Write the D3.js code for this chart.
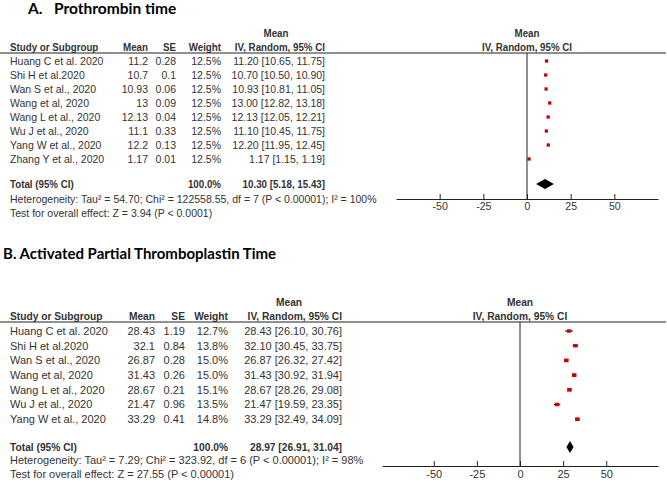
<!DOCTYPE html>
<html><head><meta charset="utf-8">
<script src="https://cdn.jsdelivr.net/npm/d3@7"></script>
<style>
body{margin:0;background:#fff}
svg{display:block}
</style>
</head><body>
<svg id="chart" width="667" height="489"></svg>
<script>
// ---------- Data: Panel A (Prothrombin time) ----------
const studiesA = ["Huang C et al. 2020","Shi H et al.2020","Wan S et al., 2020","Wang et al, 2020","Wang L et al., 2020","Wu J et al., 2020","Yang W et al., 2020","Zhang Y et al., 2020"];
const meanA   = [11.2, 10.7, 10.93, 13, 12.13, 11.1, 12.2, 1.17];
const seA     = [0.28, 0.1, 0.06, 0.09, 0.04, 0.33, 0.13, 0.01];
const weightA = [12.5, 12.5, 12.5, 12.5, 12.5, 12.5, 12.5, 12.5];
const lowA    = [10.65, 10.50, 10.81, 12.82, 12.05, 10.45, 11.95, 1.15];
const highA   = [11.75, 10.90, 11.05, 13.18, 12.21, 11.75, 12.45, 1.19];
const totalA  = [10.30, 5.18, 15.43];   // mean, lower, upper
const hetA    = "Heterogeneity: Tau\u00b2 = 54.70; Chi\u00b2 = 122558.55, df = 7 (P < 0.00001); I\u00b2 = 100%";
const testA   = "Test for overall effect: Z = 3.94 (P < 0.0001)";

// ---------- Data: Panel B (APTT) ----------
const studiesB = ["Huang C et al. 2020","Shi H et al.2020","Wan S et al., 2020","Wang et al, 2020","Wang L et al., 2020","Wu J et al., 2020","Yang W et al., 2020"];
const meanB   = [28.43, 32.1, 26.87, 31.43, 28.67, 21.47, 33.29];
const seB     = [1.19, 0.84, 0.28, 0.26, 0.21, 0.96, 0.41];
const weightB = [12.7, 13.8, 15.0, 15.0, 15.1, 13.5, 14.8];
const lowB    = [26.10, 30.45, 26.32, 30.92, 28.26, 19.59, 32.49];
const highB   = [30.76, 33.75, 27.42, 31.94, 29.08, 23.35, 34.09];
const totalB  = [28.97, 26.91, 31.04];
const hetB    = "Heterogeneity: Tau\u00b2 = 7.29; Chi\u00b2 = 323.92, df = 6 (P < 0.00001); I\u00b2 = 98%";
const testB   = "Test for overall effect: Z = 27.55 (P < 0.00001)";

const axisTicks = [-50, -25, 0, 25, 50];

const svg = d3.select("#chart");
const FONT = "'Liberation Sans', Arial, sans-serif";
const TXT = "#333";

function drawPanel(p) {
  const g = svg.append("g");
  const fs = p.fs;
  const bl = fs * 0.36; // shift from visual centre to baseline
  const t = (x, y, s, anchor, bold) => g.append("text")
      .attr("transform", `translate(${x},${y + bl}) scale(${bold ? 0.93 : 1},1)`)
      .attr("text-anchor", anchor || "start")
      .attr("font-family", FONT).attr("font-size", fs)
      .attr("font-weight", bold ? "bold" : "normal")
      .attr("fill", TXT).text(s);

  // Title
  p.title.forEach(tt => g.append("text")
      .attr("x", tt.x).attr("y", p.titleY + 5.5)
      .attr("font-family", "Lato, 'Open Sans', sans-serif")
      .attr("font-weight", "bold").attr("font-size", p.titleFs)
      .attr("fill", "#000").text(tt.s));

  // Headers
  t(p.ciColMid, p.h1, "Mean", "middle", true);
  t(10, p.h2, "Study or Subgroup", "start", true);
  t(p.colMean, p.h2, "Mean", "end", true);
  t(p.colSE, p.h2, "SE", "end", true);
  t(p.colW, p.h2, "Weight", "end", true);
  t(p.colCI, p.h2, "IV, Random, 95% CI", "end", true);

  const x = d3.scaleLinear().domain(p.domain).range(p.range);
  const x0 = x(0);
  t(x0, p.h1, "Mean", "middle", true);
  t(x0, p.h2, "IV, Random, 95% CI", "middle", true);

  g.append("line").attr("x1", 0).attr("x2", 666)
    .attr("y1", p.rule).attr("y2", p.rule)
    .attr("stroke", "#222").attr("stroke-width", 1.2);

  const y = d3.scaleLinear().domain([0, 1]).range([p.row0, p.row0 + p.rowStep]);

  // Rows
  p.studies.forEach((s, i) => {
    const yy = y(i);
    t(10, yy, s, "start");
    t(p.colMean, yy, String(p.mean[i]), "end");
    t(p.colSE, yy, String(p.se[i]), "end");
    t(p.colW, yy, p.weight[i].toFixed(1) + "%", "end");
    t(p.colCI, yy, p.mean[i].toFixed(2) + " [" + p.low[i].toFixed(2) + ", " + p.high[i].toFixed(2) + "]", "end");
  });

  // Zero line
  g.append("line").attr("x1", x0).attr("x2", x0)
    .attr("y1", p.rule).attr("y2", p.axisY)
    .attr("stroke", "#222").attr("stroke-width", 1);

  // CI lines + squares
  const sz = d3.scaleSqrt().domain([0, 15]).range([0, p.sqMax]);
  p.studies.forEach((s, i) => {
    const yy = y(i);
    g.append("line").attr("x1", x(p.low[i])).attr("x2", x(p.high[i]))
      .attr("y1", yy).attr("y2", yy).attr("stroke", "#000").attr("stroke-width", 1);
    const w = sz(p.weight[i]);
    g.append("rect").attr("x", x(p.mean[i]) - w / 2).attr("y", yy - w * p.sqAspect / 2)
      .attr("width", w).attr("height", w * p.sqAspect).attr("fill", "#cc0000");
  });

  // Total row
  t(10, p.totY, "Total (95% CI)", "start", true);
  t(p.colW, p.totY, "100.0%", "end", true);
  t(p.colCI, p.totY, p.total[0].toFixed(2) + " [" + p.total[1].toFixed(2) + ", " + p.total[2].toFixed(2) + "]", "end", true);

  const dh = p.diaH;
  g.append("path")
    .attr("d", `M${x(p.total[1])},${p.totY} L${x(p.total[0])},${p.totY - dh} L${x(p.total[2])},${p.totY} L${x(p.total[0])},${p.totY + dh} Z`)
    .attr("fill", "#000");

  t(10, p.hetY, p.het, "start");
  t(10, p.testY, p.test, "start");

  // Axis
  const ax = g.append("g").attr("transform", `translate(0,${p.axisY})`)
    .call(d3.axisBottom(x).tickValues(axisTicks).tickSize(-5).tickSizeOuter(0).tickPadding(4)
      .tickFormat(d => String(d)));
  ax.attr("font-family", FONT).attr("font-size", fs);
  ax.selectAll("path,line").attr("stroke", "#222");
  ax.selectAll("text").attr("fill", TXT);
}

drawPanel({
  title: [{x: 28, s: "A."}, {x: 54, s: "Prothrombin time"}],
  titleY: 8, titleFs: 15.5,
  fs: 10.5,
  h1: 33, h2: 47, rule: 53,
  row0: 61, rowStep: 14,
  colMean: 148, colSE: 176, colW: 221, colCI: 325, ciColMid: 276,
  studies: studiesA, mean: meanA, se: seA, weight: weightA, low: lowA, high: highA,
  total: totalA, het: hetA, test: testA,
  totY: 184, hetY: 199, testY: 213,
  domain: [-75, 75], range: [396, 658], axisY: 199,
  sqMax: 3.6, sqAspect: 1, diaH: 5
});

drawPanel({
  title: [{x: 3, s: "B. Activated Partial Thromboplastin Time"}],
  titleY: 253, titleFs: 15,
  fs: 11,
  h1: 302, h2: 316, rule: 322,
  row0: 331, rowStep: 14.7,
  colMean: 155, colSE: 185, colW: 228, colCI: 342, ciColMid: 289,
  studies: studiesB, mean: meanB, se: seB, weight: weightB, low: lowB, high: highB,
  total: totalB, het: hetB, test: testB,
  totY: 447, hetY: 460, testY: 474,
  domain: [-80, 80], range: [382, 658], axisY: 466,
  sqMax: 4.6, sqAspect: 0.8, diaH: 6
});
</script>
</body></html>
